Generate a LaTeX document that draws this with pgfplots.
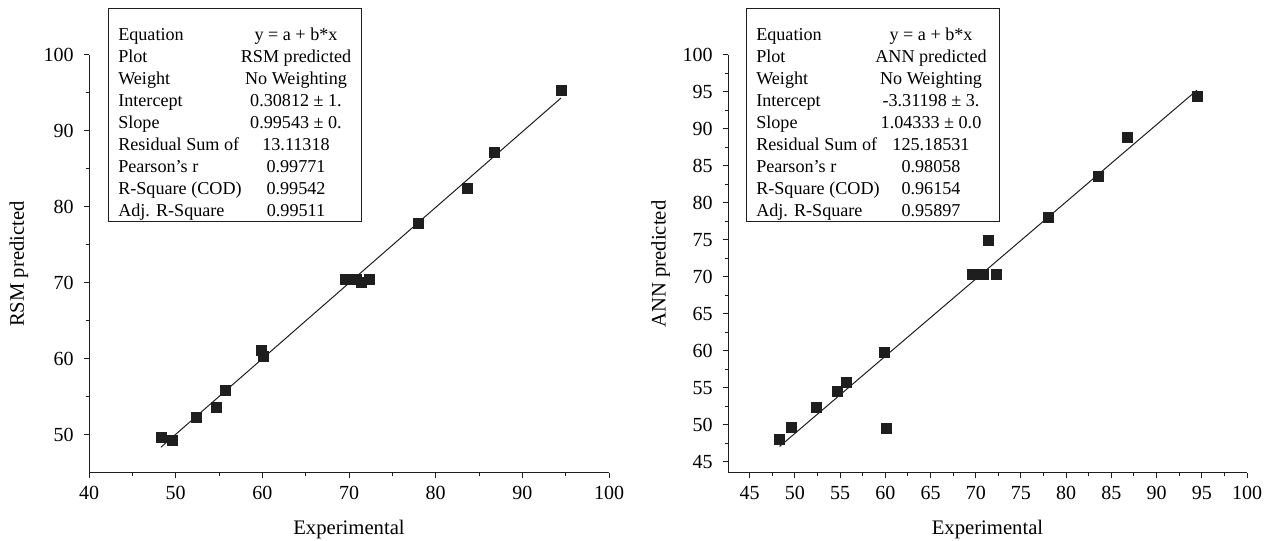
\documentclass[border=0pt]{standalone}
\usepackage{fontspec}
\setmainfont{Liberation Serif}
\usepackage{pgfplots}
\pgfplotsset{compat=1.18}
\definecolor{ink}{HTML}{1E1E1E}
\pgfplotstableread{
x y
48.3 49.7
49.65 49.25
52.4 52.3
54.65 53.7
55.7 55.9
59.85 61.1
60.1 60.3
69.6 70.5
70.2 70.5
70.8 70.5
71.4 70.1
72.3 70.5
78.0 77.8
83.6 82.4
86.8 87.15
94.45 95.4
}\rsm
\pgfplotstableread{
x y
48.3 48.1
49.65 49.7
52.4 52.4
54.65 54.6
55.7 55.7
59.85 59.8
60.1 49.5
69.6 70.3
70.2 70.3
70.8 70.3
71.4 74.9
72.3 70.3
78.0 78.1
83.6 83.6
86.8 88.9
94.45 94.4
}\ann
\newcommand\row[5]{%
  \node[anchor=base west,inner sep=0pt,font=\fontsize{13.6}{15}\selectfont] at (#4pt,{(375-16.5*(#1-1))*1pt}) {#2};
  \node[anchor=base,inner sep=0pt,font=\fontsize{13.6}{15}\selectfont] at (#5pt,{(375-16.5*(#1-1))*1pt}) {#3};}
\begin{document}
\begin{tikzpicture}
\path[use as bounding box] (0pt,0pt) rectangle (953.25pt,405.75pt);
\pgfplotsset{myax/.style={
  scale only axis, height=313.5pt, anchor=south west,
  axis x line*=bottom, axis y line*=left,
  axis line style={-, line width=0.75pt, color=ink},
  tick align=outside, major tick length=4pt, minor tick length=2.5pt,
  every tick/.style={ink, line width=0.75pt},
  minor tick num=1,
  /pgf/number format/assume math mode=true,
  tick label style={font=\fontsize{15}{17}\selectfont},
  xticklabel style={yshift=-2.5pt},
  yticklabel style={xshift=-4pt},
  label style={font=\fontsize{15.5}{18}\selectfont},
  xlabel style={at={(axis description cs:0.5,-0.135)}, anchor=center},
  xlabel={Experimental},
  clip=false}}
\begin{axis}[myax, at={(66.75pt,51pt)}, width=390pt,
  xmin=40, xmax=100, ymin=45, ymax=100,
  xtick={40,50,...,100}, ytick={50,60,...,100},
  ylabel={RSM predicted},
  ylabel style={at={(axis description cs:-0.135,0.5)}, anchor=center}]
\addplot[no marks, line width=0.75pt, ink] coordinates {(48.3,48.39) (94.45,94.33)};
\addplot[only marks, mark=square*, mark size=3.75pt, ink] table {\rsm};
\end{axis}
\begin{axis}[myax, at={(546pt,51pt)}, width=389.25pt,
  xmin=42.6, xmax=100, ymin=43.5, ymax=100,
  xtick={45,50,...,100}, ytick={45,50,...,100},
  ylabel={ANN predicted},
  ylabel style={at={(axis description cs:-0.13,0.5)}, anchor=center}]
\addplot[no marks, line width=0.75pt, ink] coordinates {(48.3,47.08) (94.45,95.23)};
\addplot[only marks, mark=square*, mark size=3.75pt, ink] table {\ann};
\end{axis}
\draw[line width=0.75pt, ink, fill=white] (81pt,399pt) rectangle (270.75pt,239.25pt);
\row{1}{Equation}{y = a + b*x}{88.5}{222}
\row{2}{Plot}{RSM predicted}{88.5}{222}
\row{3}{Weight}{No Weighting}{88.5}{222}
\row{4}{Intercept}{0.30812 ± 1.}{88.5}{222}
\row{5}{Slope}{0.99543 ± 0.}{88.5}{222}
\row{6}{Residual Sum of}{13.11318}{88.5}{222}
\row{7}{Pearson’s r}{0.99771}{88.5}{222}
\row{8}{R-Square (COD)}{0.99542}{88.5}{222}
\row{9}{Adj. R-Square}{0.99511}{88.5}{222}
\draw[line width=0.75pt, ink, fill=white] (559.5pt,399pt) rectangle (749.25pt,239.25pt);
\row{1}{Equation}{y = a + b*x}{567}{698.25}
\row{2}{Plot}{ANN predicted}{567}{698.25}
\row{3}{Weight}{No Weighting}{567}{698.25}
\row{4}{Intercept}{-3.31198 ± 3.}{567}{698.25}
\row{5}{Slope}{1.04333 ± 0.0}{567}{698.25}
\row{6}{Residual Sum of}{125.18531}{567}{698.25}
\row{7}{Pearson’s r}{0.98058}{567}{698.25}
\row{8}{R-Square (COD)}{0.96154}{567}{698.25}
\row{9}{Adj. R-Square}{0.95897}{567}{698.25}
\end{tikzpicture}
\end{document}
